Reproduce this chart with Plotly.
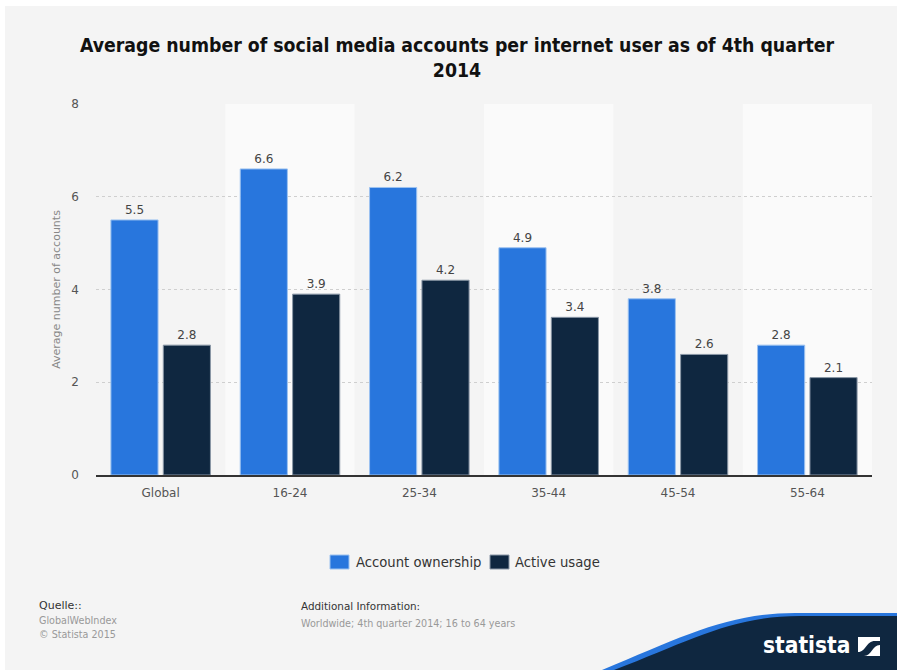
import plotly.graph_objects as go

categories = ["Global", "16-24", "25-34", "35-44", "45-54", "55-64"]
ownership = [5.5, 6.6, 6.2, 4.9, 3.8, 2.8]
active = [2.8, 3.9, 4.2, 3.4, 2.6, 2.1]
y_ticks = [0, 2, 4, 6, 8]
series_names = ["Account ownership", "Active usage"]

W, H = 897, 670
L, R, T, B = 96, 25, 104, 195
PW, PH = W - L - R, H - T - B


def px(x):
    return (x - L) / PW


def py(y):
    return (H - B - y) / PH


def p(x, y):
    return f"{px(x):.5f},{py(y):.5f}"


BLUE = "#2876dd"
NAVY = "#0f2740"
BG = "#f4f4f4"
FONT = "DejaVu Sans"

fig = go.Figure()
for name, vals, color, edge in [(series_names[0], ownership, BLUE, "#9cc2f0"),
                                (series_names[1], active, NAVY, "#8a97a6")]:
    fig.add_bar(x=categories, y=vals, name=name,
                marker=dict(color=color, line=dict(color=edge, width=1)),
                text=[f"{v:.1f}" for v in vals], textposition="outside",
                textfont=dict(size=12, color="#444", family=FONT), cliponaxis=False,
                showlegend=False)

shapes = []
# lighter background bands behind every second category
for i in range(1, len(categories), 2):
    shapes.append(dict(type="rect", xref="x", yref="paper", x0=i - 0.5, x1=i + 0.5,
                       y0=0, y1=1, fillcolor="#fafafa", line=dict(width=0), layer="below"))
# white frame strip around the card
shapes.append(dict(type="rect", xref="paper", yref="paper", x0=px(0), x1=px(W),
                   y0=py(6), y1=py(0), fillcolor="white", line=dict(width=0), layer="below"))
shapes.append(dict(type="rect", xref="paper", yref="paper", x0=px(0), x1=px(5),
                   y0=py(H), y1=py(0), fillcolor="white", line=dict(width=0), layer="below"))

# brand corner: blue edge then navy body
blue_path = (f"M {p(602, 670)} C {p(684, 636)} {p(728, 613)} {p(795, 613)} "
             f"L {p(897, 613)} L {p(897, 670)} Z")
navy_path = (f"M {p(614, 670)} C {p(692, 640)} {p(732, 616)} {p(800, 616)} "
             f"L {p(897, 616)} L {p(897, 670)} Z")
shapes.append(dict(type="path", xref="paper", yref="paper", path=blue_path,
                   fillcolor=BLUE, line=dict(width=0)))
shapes.append(dict(type="path", xref="paper", yref="paper", path=navy_path,
                   fillcolor=NAVY, line=dict(width=0)))
# logo mark
shapes.append(dict(type="rect", xref="paper", yref="paper", x0=px(858), x1=px(880),
                   y0=py(656), y1=py(637), fillcolor="white", line=dict(width=0)))
mark = (f"M {p(858, 656)} L {p(858, 652)} C {p(866, 652)} {p(866, 641)} {p(875, 641)} "
        f"L {p(880, 641)} L {p(880, 645)} C {p(872, 645)} {p(872, 656)} {p(864, 656)} Z")
shapes.append(dict(type="path", xref="paper", yref="paper", path=mark,
                   fillcolor=NAVY, line=dict(width=0)))

# legend swatches
for (x0, color, edge) in [(330, BLUE, "#9cc2f0"), (490, NAVY, "#8a97a6")]:
    shapes.append(dict(type="rect", xref="paper", yref="paper", x0=px(x0), x1=px(x0 + 19),
                       y0=py(569), y1=py(555), fillcolor=color, line=dict(color=edge, width=1)))

annotations = [
    dict(text="Quelle::", x=px(37), y=py(605), font=dict(size=11, color="#333")),
    dict(text="GlobalWebIndex", x=px(37), y=py(620), font=dict(size=9.6, color="#999")),
    dict(text="© Statista 2015", x=px(37), y=py(634), font=dict(size=9.6, color="#999")),
    dict(text="Additional Information:", x=px(299), y=py(606), font=dict(size=10.4, color="#333")),
    dict(text="Worldwide; 4th quarter 2014; 16 to 64 years", x=px(299), y=py(623),
         font=dict(size=9.6, color="#999")),
    dict(text=series_names[0], x=px(354), y=py(562), font=dict(size=13.2, color="#333")),
    dict(text=series_names[1], x=px(513), y=py(562), font=dict(size=13.2, color="#333")),
]
for a in annotations:
    a.update(xref="paper", yref="paper", xanchor="left", yanchor="middle", showarrow=False)
    a["font"]["family"] = FONT
annotations.append(dict(text="<b>statista</b>", x=px(852), y=py(645), xref="paper", yref="paper",
                        xanchor="right", yanchor="middle", showarrow=False,
                        font=dict(size=22.5, color="white", family="DejaVu Sans Condensed")))

fig.update_layout(
    width=W, height=H,
    margin=dict(l=L, r=R, t=T, b=B),
    paper_bgcolor=BG, plot_bgcolor=BG,
    title=dict(text="<b>Average number of social media accounts per internet user as of 4th quarter<br>2014</b>",
               x=457 / W, xanchor="center", y=1 - 52 / H, yanchor="middle",
               font=dict(size=19.3, color="#111", family="DejaVu Sans Condensed")),
    barmode="group", bargap=0.19, bargroupgap=0.1,
    font=dict(family=FONT, color="#555"),
    shapes=shapes, annotations=annotations,
    showlegend=False,
)
fig.update_xaxes(showgrid=False, showline=True, linecolor="#333", linewidth=1.5,
                 tickfont=dict(size=12, color="#555"), ticks="", ticklabelstandoff=6)
fig.update_yaxes(range=[0, 8], tickvals=y_ticks, showgrid=True, gridcolor="#cfcfcf",
                 griddash="dot", gridwidth=1, zeroline=False, showline=False,
                 tickfont=dict(size=12, color="#555"), ticklabelstandoff=16,
                 title=dict(text="Average number of accounts", font=dict(size=11, color="#888"),
                            standoff=8))

fig.write_html("out.html")
